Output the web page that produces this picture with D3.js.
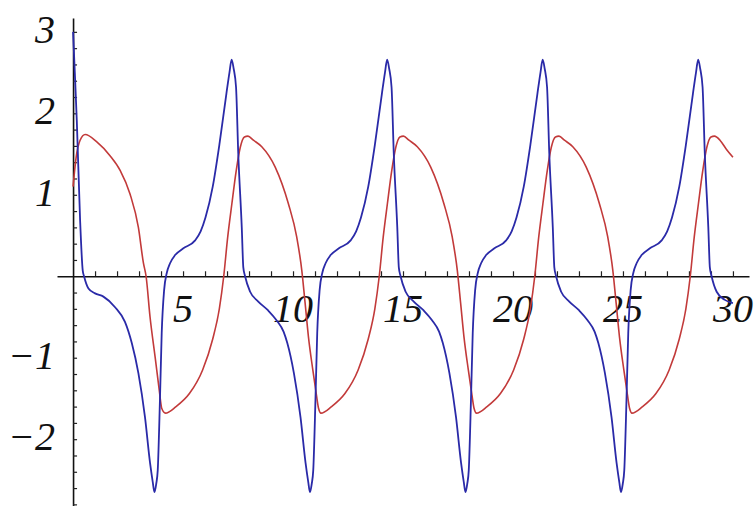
<!DOCTYPE html>
<html>
<head>
<meta charset="utf-8">
<script src="https://cdn.jsdelivr.net/npm/d3@7"></script>
<style>
  body { margin: 0; background: #fff; }
  svg { display: block; }
  .tick-label { font-family: "Liberation Serif", "DejaVu Serif", serif; font-style: italic; font-size: 40px; fill: #111; }
</style>
</head>
<body>
<svg id="chart" width="756" height="506"></svg>
<script>
/*
  two oscillating series as [t, value] pairs
*/

// blue series
var blueSeries = [
  [0,3.0],[0.08,2.5],[0.17,1.91],[0.32,0.69],[0.44,0.07],[0.5,0],[0.7,-0.15],[1.0,-0.21],
  [1.38,-0.25],[1.91,-0.38],[2.36,-0.56],[2.67,-0.82],[2.97,-1.19],[3.27,-1.73],[3.5,-2.29],[3.62,-2.52],
  // cycle 1
  [3.70,-2.65],[3.78,-2.55],[3.85,-2.38],[3.95,-1.52],[4.03,-0.70],[4.14,-0.17],[4.26,0.04],[4.41,0.16],
  [4.64,0.26],[5.00,0.34],[5.55,0.44],[5.80,0.55],[6.02,0.72],[6.35,1.10],[6.66,1.63],[6.97,2.24],
  [7.11,2.50],[7.21,2.66],[7.30,2.55],[7.41,2.32],[7.51,1.51],[7.67,0.60],[7.74,0.11],[7.82,0],
  [8.05,-0.19],[8.42,-0.31],[8.87,-0.42],[9.25,-0.54],[9.57,-0.68],[9.74,-0.82],[10.04,-1.19],[10.34,-1.73],
  [10.57,-2.29],[10.69,-2.52],
  // cycle 2
  [10.77,-2.65],[10.85,-2.55],[10.92,-2.38],[11.02,-1.52],[11.10,-0.70],[11.21,-0.17],[11.33,0.04],[11.48,0.16],
  [11.71,0.26],[12.07,0.34],[12.62,0.44],[12.87,0.55],[13.09,0.72],[13.42,1.10],[13.73,1.63],[14.04,2.24],
  [14.18,2.50],[14.28,2.66],[14.37,2.55],[14.48,2.32],[14.58,1.51],[14.74,0.60],[14.81,0.11],[14.89,0],
  [15.12,-0.19],[15.49,-0.31],[15.94,-0.42],[16.32,-0.54],[16.64,-0.68],[16.81,-0.82],[17.11,-1.19],[17.41,-1.73],
  [17.64,-2.29],[17.76,-2.52],
  // cycle 3
  [17.84,-2.65],[17.92,-2.55],[17.99,-2.38],[18.09,-1.52],[18.17,-0.70],[18.28,-0.17],[18.40,0.04],[18.55,0.16],
  [18.78,0.26],[19.14,0.34],[19.69,0.44],[19.94,0.55],[20.16,0.72],[20.49,1.10],[20.80,1.63],[21.11,2.24],
  [21.25,2.50],[21.35,2.66],[21.44,2.55],[21.55,2.32],[21.65,1.51],[21.81,0.60],[21.88,0.11],[21.96,0],
  [22.19,-0.19],[22.56,-0.31],[23.01,-0.42],[23.39,-0.54],[23.71,-0.68],[23.88,-0.82],[24.18,-1.19],[24.48,-1.73],
  [24.71,-2.29],[24.83,-2.52],
  // cycle 4
  [24.91,-2.65],[24.99,-2.55],[25.06,-2.38],[25.16,-1.52],[25.24,-0.70],[25.35,-0.17],[25.47,0.04],[25.62,0.16],
  [25.85,0.26],[26.21,0.34],[26.76,0.44],[27.01,0.55],[27.23,0.72],[27.56,1.10],[27.87,1.63],[28.18,2.24],
  [28.32,2.50],[28.42,2.66],[28.51,2.55],[28.62,2.32],[28.72,1.51],[28.88,0.60],[28.95,0.11],[29.03,0],
  [29.26,-0.19],[29.63,-0.29],[30,-0.33]
];

// red series
var redSeries = [
  [0,1.10],[0.14,1.46],[0.32,1.67],[0.55,1.74],[1.08,1.65],[1.68,1.48],[2.14,1.30],[2.59,1.01],
  [2.97,0.60],[3.20,0.16],[3.32,0],[3.50,-0.50],[3.73,-0.99],[3.92,-1.40],[4.03,-1.62],
  [4.20,-1.68],[4.68,-1.60],[5.29,-1.44],[5.89,-1.15],[6.35,-0.77],[6.65,-0.40],[6.85,0],[7.03,0.48],
  [7.22,0.89],[7.42,1.30],[7.60,1.58],[7.79,1.71],[7.95,1.72],[8.20,1.67],[8.58,1.59],[9.19,1.34],
  [9.79,0.89],[10.17,0.48],[10.40,0.07],[10.55,-0.33],[10.70,-0.74],[10.90,-1.15],[11.06,-1.45],[11.16,-1.62],
  [11.27,-1.68],[11.75,-1.60],[12.36,-1.44],[12.96,-1.15],[13.42,-0.77],[13.72,-0.40],[13.92,0],[14.10,0.48],
  [14.29,0.89],[14.49,1.30],[14.67,1.58],[14.86,1.71],[15.02,1.72],[15.27,1.67],[15.65,1.59],[16.26,1.34],
  [16.86,0.89],[17.24,0.48],[17.47,0.07],[17.62,-0.33],[17.77,-0.74],[17.97,-1.15],[18.13,-1.45],[18.23,-1.62],
  [18.34,-1.68],[18.82,-1.60],[19.43,-1.44],[20.03,-1.15],[20.49,-0.77],[20.79,-0.40],[20.99,0],[21.17,0.48],
  [21.36,0.89],[21.56,1.30],[21.74,1.58],[21.93,1.71],[22.09,1.72],[22.34,1.67],[22.72,1.59],[23.33,1.34],
  [23.93,0.89],[24.31,0.48],[24.54,0.07],[24.69,-0.33],[24.84,-0.74],[25.04,-1.15],[25.20,-1.45],[25.30,-1.62],
  [25.41,-1.68],[25.89,-1.60],[26.50,-1.44],[27.10,-1.15],[27.56,-0.77],[27.86,-0.40],[28.06,0],[28.24,0.48],
  [28.43,0.89],[28.63,1.30],[28.81,1.58],[29.00,1.71],[29.16,1.72],[29.41,1.67],[29.70,1.56],[30,1.46]
];

// ticks and labels
var xMinorTicks = d3.range(1, 31);
var xLabels = [5, 10, 15, 20, 25, 30];
var yMinorTicks = d3.range(-14, 16).filter(function(d){ return d !== 0; }).map(function(d){ return d / 5; });
var yLabels = [-2, -1, 1, 2, 3];

var svg = d3.select("#chart");

// scales
var x = d3.scaleLinear().domain([-0.73, 30.73]).range([57, 749]);
var y = d3.scaleLinear().domain([3.17, -2.82]).range([18, 506]);

// x axis, ticks pointing up
var xAxis = d3.axisBottom(x)
  .tickValues(xMinorTicks)
  .tickSizeInner(-5)
  .tickSizeOuter(0)
  .tickFormat("");
var gx = svg.append("g")
  .attr("transform", "translate(0," + y(0) + ")")
  .call(xAxis);

// y axis, ticks pointing right
var yAxis = d3.axisLeft(y)
  .tickValues(yMinorTicks)
  .tickSizeInner(-4)
  .tickSizeOuter(0)
  .tickFormat("");
var gy = svg.append("g")
  .attr("transform", "translate(" + x(0) + ",0)")
  .call(yAxis);

svg.selectAll(".domain").attr("stroke", "#111").attr("stroke-width", 1.6);
svg.selectAll(".tick line").attr("stroke", "#222").attr("stroke-width", 1.2);

// tick labels
svg.selectAll(".xlab")
  .data(xLabels)
  .enter().append("text")
  .attr("class", "tick-label")
  .attr("x", function(d){ return x(d); })
  .attr("y", y(0) + 46)
  .attr("text-anchor", "middle")
  .text(function(d){ return d; });

svg.selectAll(".ylab")
  .data(yLabels)
  .enter().append("text")
  .attr("class", "tick-label")
  .attr("x", 55)
  .attr("y", function(d){ return y(d) + 11; })
  .attr("text-anchor", "end")
  .text(function(d){ return d < 0 ? "\u2212" + Math.abs(d) : d; });

// curves
var line = d3.line()
  .x(function(d){ return x(d[0]); })
  .y(function(d){ return y(d[1]); })
  .curve(d3.curveMonotoneX);

svg.append("path")
  .datum(redSeries)
  .attr("d", line)
  .attr("fill", "none")
  .attr("stroke", "#c23a3a")
  .attr("stroke-width", 1.6);

svg.append("path")
  .datum(blueSeries)
  .attr("d", line)
  .attr("fill", "none")
  .attr("stroke", "#2a2aa8")
  .attr("stroke-width", 1.8);
</script>
</body>
</html>
